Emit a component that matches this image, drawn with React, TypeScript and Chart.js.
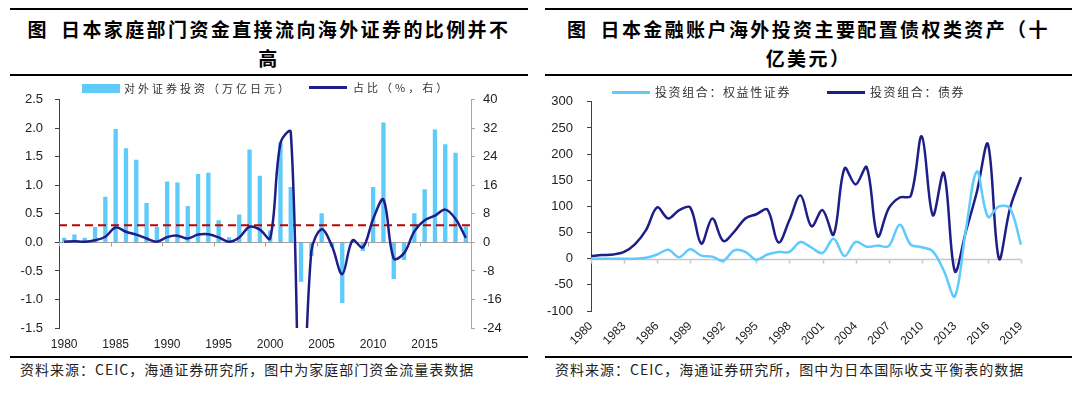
import React, { useEffect, useRef } from 'react';
import { Chart, registerables } from 'chart.js';
Chart.register(...registerables);

// ---------- Left chart data ----------
const leftYears = [
  '1980','1981','1982','1983','1984','1985','1986','1987','1988','1989',
  '1990','1991','1992','1993','1994','1995','1996','1997','1998','1999',
  '2000','2001','2002','2003','2004','2005','2006','2007','2008','2009',
  '2010','2011','2012','2013','2014','2015','2016','2017','2018','2019',
];
const foreignSecInvest = [
  0.08, 0.14, 0.08, 0.27, 0.80, 1.99, 1.65, 1.45, 0.69, 0.27,
  1.07, 1.05, 0.64, 1.20, 1.22, 0.39, 0.09, 0.49, 1.63, 1.17,
  0.21, 1.75, 0.97, -0.69, -0.24, 0.51, -0.08, -1.06, 0.03, -0.15,
  0.97, 2.10, -0.64, -0.31, 0.51, 0.93, 1.98, 1.72, 1.57, 0.28,
];
const shareRatio = [
  0.2, 0.3, 0.2, 0.6, 1.6, 4.2, 3.0, 2.2, 1.1, 0.2,
  1.5, 1.9, 1.1, 2.2, 2.3, 1.4, 0.2, 1.4, 4.4, 3.6,
  1.1, 27.8, 31.0, -60, -2.5, 3.7, -1.0, -8.9, 0.6, -1.4,
  6.6, 12.0, -4.5, -3.0, 3.1, 6.2, 7.5, 9.2, 6.6, 1.3,
];
const shareRatioMean = 4.8;
const leftTicksL = { min: -1.5, max: 2.5, step: 0.5 };
const leftTicksR = { min: -24, max: 40, step: 8 };

// ---------- Right chart data ----------
const rightYears = [
  '1980','1981','1982','1983','1984','1985','1986','1987','1988','1989',
  '1990','1991','1992','1993','1994','1995','1996','1997','1998','1999',
  '2000','2001','2002','2003','2004','2005','2006','2007','2008','2009',
  '2010','2011','2012','2013','2014','2015','2016','2017','2018','2019',
];
const equitySecurities = [
  0, 0, 0, 0, 0, 2, 8, 17, 3, 18,
  6, 4, -4, 16, 13, -2, 8, 13, 13, 32,
  21, 11, 38, 5, 32, 23, 25, 24, 65, 27,
  22, 14, -23, -72, 55, 167, 80, 100, 96, 27,
];
const bondSecurities = [
  5, 7, 8, 13, 28, 55, 98, 77, 93, 98,
  29, 77, 34, 52, 77, 85, 94, 31, 74, 121,
  62, 93, 46, 173, 142, 175, 43, 96, 117, 120,
  234, 83, 164, -24, 52, 128, 219, 0, 96, 156,
];
const rightTicks = { min: -100, max: 300, step: 50 };

const BAR_BLUE = '#5ecbfa';
const NAVY = '#1e1e87';
const LIGHT = '#5ecbfa';
const RED = '#c00000';
const NUM_FONT = '"Liberation Sans", Arial, sans-serif';
const CJK = '"Noto Sans CJK SC", "Noto Sans", sans-serif';

const leftDecor = {
  id: 'leftDecor',
  beforeDatasetsDraw(chart: any) {
    const { ctx, chartArea, scales } = chart;
    const x = scales.x, y = scales.y;
    const zy = Math.round(y.getPixelForValue(0)) + 0.5;
    const half = (x.getPixelForValue(1) - x.getPixelForValue(0)) / 2;
    ctx.save();
    ctx.strokeStyle = '#a0a0a0';
    ctx.lineWidth = 1;
    ctx.beginPath();
    ctx.moveTo(chartArea.left, zy);
    ctx.lineTo(chartArea.right, zy);
    leftYears.forEach((lab, i) => {
      if (Number(lab) % 5 === 0) {
        const px = Math.round(x.getPixelForValue(i) - half) + 0.5;
        ctx.moveTo(px, zy);
        ctx.lineTo(px, zy + 4);
      }
    });
    ctx.stroke();
    ctx.restore();
  },
  afterDatasetDraw(chart: any, args: any) {
    if (args.index !== 1) return;
    const { ctx, chartArea, scales } = chart;
    const py = scales.y1.getPixelForValue(shareRatioMean);
    ctx.save();
    ctx.strokeStyle = RED;
    ctx.lineWidth = 2;
    ctx.setLineDash([8, 5]);
    ctx.beginPath();
    ctx.moveTo(chartArea.left, py);
    ctx.lineTo(chartArea.right, py);
    ctx.stroke();
    ctx.restore();
  },
};

const rightDecor = {
  id: 'rightDecor',
  beforeDatasetsDraw(chart: any) {
    const { ctx, chartArea, scales } = chart;
    const x = scales.x, y = scales.y;
    const zy = Math.round(y.getPixelForValue(0)) + 0.5;
    ctx.save();
    ctx.strokeStyle = '#c8c8c8';
    ctx.lineWidth = 1.5;
    ctx.beginPath();
    ctx.moveTo(chartArea.left, zy);
    ctx.lineTo(chartArea.right, zy);
    rightYears.forEach((lab, i) => {
      if ((Number(lab) - 1980) % 3 === 0) {
        const px = Math.round(x.getPixelForValue(i)) + 0.5;
        ctx.moveTo(px, zy);
        ctx.lineTo(px, zy + 4);
      }
    });
    ctx.stroke();
    ctx.restore();
  },
};

export default function App() {
  const leftRef = useRef<HTMLCanvasElement>(null);
  const rightRef = useRef<HTMLCanvasElement>(null);

  useEffect(() => {
    const c1 = new Chart(leftRef.current as HTMLCanvasElement, {
      type: 'bar',
      data: {
        labels: leftYears,
        datasets: [
          {
            type: 'line',
            label: '占比（%，右）',
            data: shareRatio,
            yAxisID: 'y1',
            borderColor: NAVY,
            borderWidth: 2.5,
            pointRadius: 0,
            tension: 0.35,
            fill: false,
          } as any,
          {
            type: 'bar',
            label: '对外证券投资（万亿日元）',
            data: foreignSecInvest,
            yAxisID: 'y',
            backgroundColor: BAR_BLUE,
            barPercentage: 0.42,
            categoryPercentage: 1.0,
          },
        ],
      },
      options: {
        responsive: false,
        animation: false,
        layout: { padding: { top: 16, left: 0, right: 0, bottom: 0 } },
        plugins: { legend: { display: false }, tooltip: { enabled: false } },
        scales: {
          x: {
            type: 'category',
            offset: true,
            grid: { display: false, drawTicks: false },
            border: { display: false },
            ticks: {
              autoSkip: false,
              maxRotation: 0,
              minRotation: 0,
              padding: 9,
              color: '#222',
              font: { family: NUM_FONT, size: 12 },
              callback: (v: any, i: number) => (Number(leftYears[i]) % 5 === 0 ? leftYears[i] : ''),
            },
            afterFit: (s: any) => { s.height = 24; },
          },
          y: {
            position: 'left',
            min: leftTicksL.min,
            max: leftTicksL.max,
            ticks: {
              stepSize: leftTicksL.step,
              padding: 12,
              color: '#222',
              font: { family: NUM_FONT, size: 13 },
              callback: (v: any) => Number(v).toFixed(1),
            },
            grid: { drawOnChartArea: false, drawTicks: true, tickLength: 4, color: '#404040' },
            border: { color: '#404040', width: 1 },
            afterFit: (s: any) => { s.width = 59; },
          },
          y1: {
            position: 'right',
            min: leftTicksR.min,
            max: leftTicksR.max,
            ticks: {
              stepSize: leftTicksR.step,
              padding: 8,
              color: '#222',
              font: { family: NUM_FONT, size: 13 },
            },
            grid: { drawOnChartArea: false, drawTicks: true, tickLength: 4, color: '#a6a6a6' },
            border: { color: '#a6a6a6', width: 1 },
            afterFit: (s: any) => { s.width = 69; },
          },
        },
      },
      plugins: [leftDecor],
    } as any);

    const c2 = new Chart(rightRef.current as HTMLCanvasElement, {
      type: 'line',
      data: {
        labels: rightYears,
        datasets: [
          {
            label: '投资组合：权益性证券',
            data: equitySecurities,
            borderColor: LIGHT,
            borderWidth: 2.5,
            pointRadius: 0,
            tension: 0.35,
            fill: false,
          },
          {
            label: '投资组合：债券',
            data: bondSecurities,
            borderColor: NAVY,
            borderWidth: 2.5,
            pointRadius: 0,
            tension: 0.35,
            fill: false,
          },
        ],
      },
      options: {
        responsive: false,
        animation: false,
        layout: { padding: { top: 19, left: 0, right: 59, bottom: 0 } },
        plugins: { legend: { display: false }, tooltip: { enabled: false } },
        scales: {
          x: {
            type: 'category',
            offset: false,
            grid: { display: false, drawTicks: false },
            border: { display: false },
            ticks: {
              autoSkip: false,
              maxRotation: 45,
              minRotation: 45,
              padding: 8,
              color: '#222',
              font: { family: NUM_FONT, size: 12 },
              callback: (v: any, i: number) => ((Number(rightYears[i]) - 1980) % 3 === 0 ? rightYears[i] : ''),
            },
            afterFit: (s: any) => { s.height = 44; },
          },
          y: {
            position: 'left',
            min: rightTicks.min,
            max: rightTicks.max,
            ticks: {
              stepSize: rightTicks.step,
              padding: 14,
              color: '#222',
              font: { family: NUM_FONT, size: 13 },
            },
            grid: { drawOnChartArea: false, drawTicks: true, tickLength: 4, color: '#404040' },
            border: { color: '#404040', width: 1 },
            afterFit: (s: any) => { s.width = 51; },
          },
        },
      },
      plugins: [rightDecor],
    } as any);

    return () => {
      c1.destroy();
      c2.destroy();
    };
  }, []);

  const titleStyle: React.CSSProperties = {
    position: 'absolute',
    top: 8,
    height: 68,
    boxSizing: 'border-box',
    borderTop: '2px solid #000',
    borderBottom: '2px solid #000',
    paddingTop: 4,
    textAlign: 'center',
    fontFamily: CJK,
    fontWeight: 700,
    fontSize: 19,
    letterSpacing: '2.4px',
    lineHeight: '29px',
    color: '#000',
  };
  const sourceStyle: React.CSSProperties = {
    position: 'absolute',
    top: 356,
    height: 30,
    boxSizing: 'border-box',
    borderTop: '2px solid #000',
    paddingLeft: 10,
    paddingTop: 1,
    fontFamily: CJK,
    fontSize: 14,
    letterSpacing: '1px',
    lineHeight: '20px',
    color: '#222',
    whiteSpace: 'nowrap',
  };
  const legendText: React.CSSProperties = {
    position: 'absolute',
    fontFamily: CJK,
    fontSize: 11,
    letterSpacing: '3px',
    lineHeight: '14px',
    color: '#333',
    whiteSpace: 'nowrap',
  };

  return (
    <div style={{ position: 'absolute', left: 0, top: 0, width: 1080, height: 397, background: '#fff', overflow: 'hidden' }}>
      {/* Left panel */}
      <div style={{ ...titleStyle, left: 10, width: 518 }}>
        <span style={{ marginRight: 12 }}>图</span>日本家庭部门资金直接流向海外证券的比例并不<br />高
      </div>
      <canvas ref={leftRef} width={540} height={272} style={{ position: 'absolute', left: 0, top: 80, width: 540, height: 272 }} />
      <div style={{ position: 'absolute', left: 82, top: 84, width: 38, height: 9, background: BAR_BLUE }} />
      <div style={{ ...legendText, left: 124, top: 81 }}>对外证券投资（万亿日元）</div>
      <div style={{ position: 'absolute', left: 309, top: 86, width: 38, height: 2.5, background: NAVY }} />
      <div style={{ ...legendText, left: 353, top: 80 }}>占比（%，右）</div>
      <div style={{ ...sourceStyle, left: 10, width: 518 }}>资料来源：CEIC，海通证券研究所，图中为家庭部门资金流量表数据</div>

      {/* Right panel */}
      <div style={{ ...titleStyle, left: 545, width: 527 }}>
        <span style={{ marginRight: 12 }}>图</span>日本金融账户海外投资主要配置债权类资产（十<br />亿美元）
      </div>
      <canvas ref={rightRef} width={540} height={275} style={{ position: 'absolute', left: 540, top: 80, width: 540, height: 275 }} />
      <div style={{ position: 'absolute', left: 612, top: 91, width: 38, height: 2.5, background: LIGHT }} />
      <div style={{ ...legendText, left: 655, top: 85, fontSize: 12, letterSpacing: '1.6px' }}>投资组合：权益性证券</div>
      <div style={{ position: 'absolute', left: 827, top: 91, width: 38, height: 2.5, background: NAVY }} />
      <div style={{ ...legendText, left: 870, top: 85, fontSize: 12, letterSpacing: '1.6px' }}>投资组合：债券</div>
      <div style={{ ...sourceStyle, left: 545, width: 527 }}>资料来源：CEIC，海通证券研究所，图中为日本国际收支平衡表的数据</div>
    </div>
  );
}
